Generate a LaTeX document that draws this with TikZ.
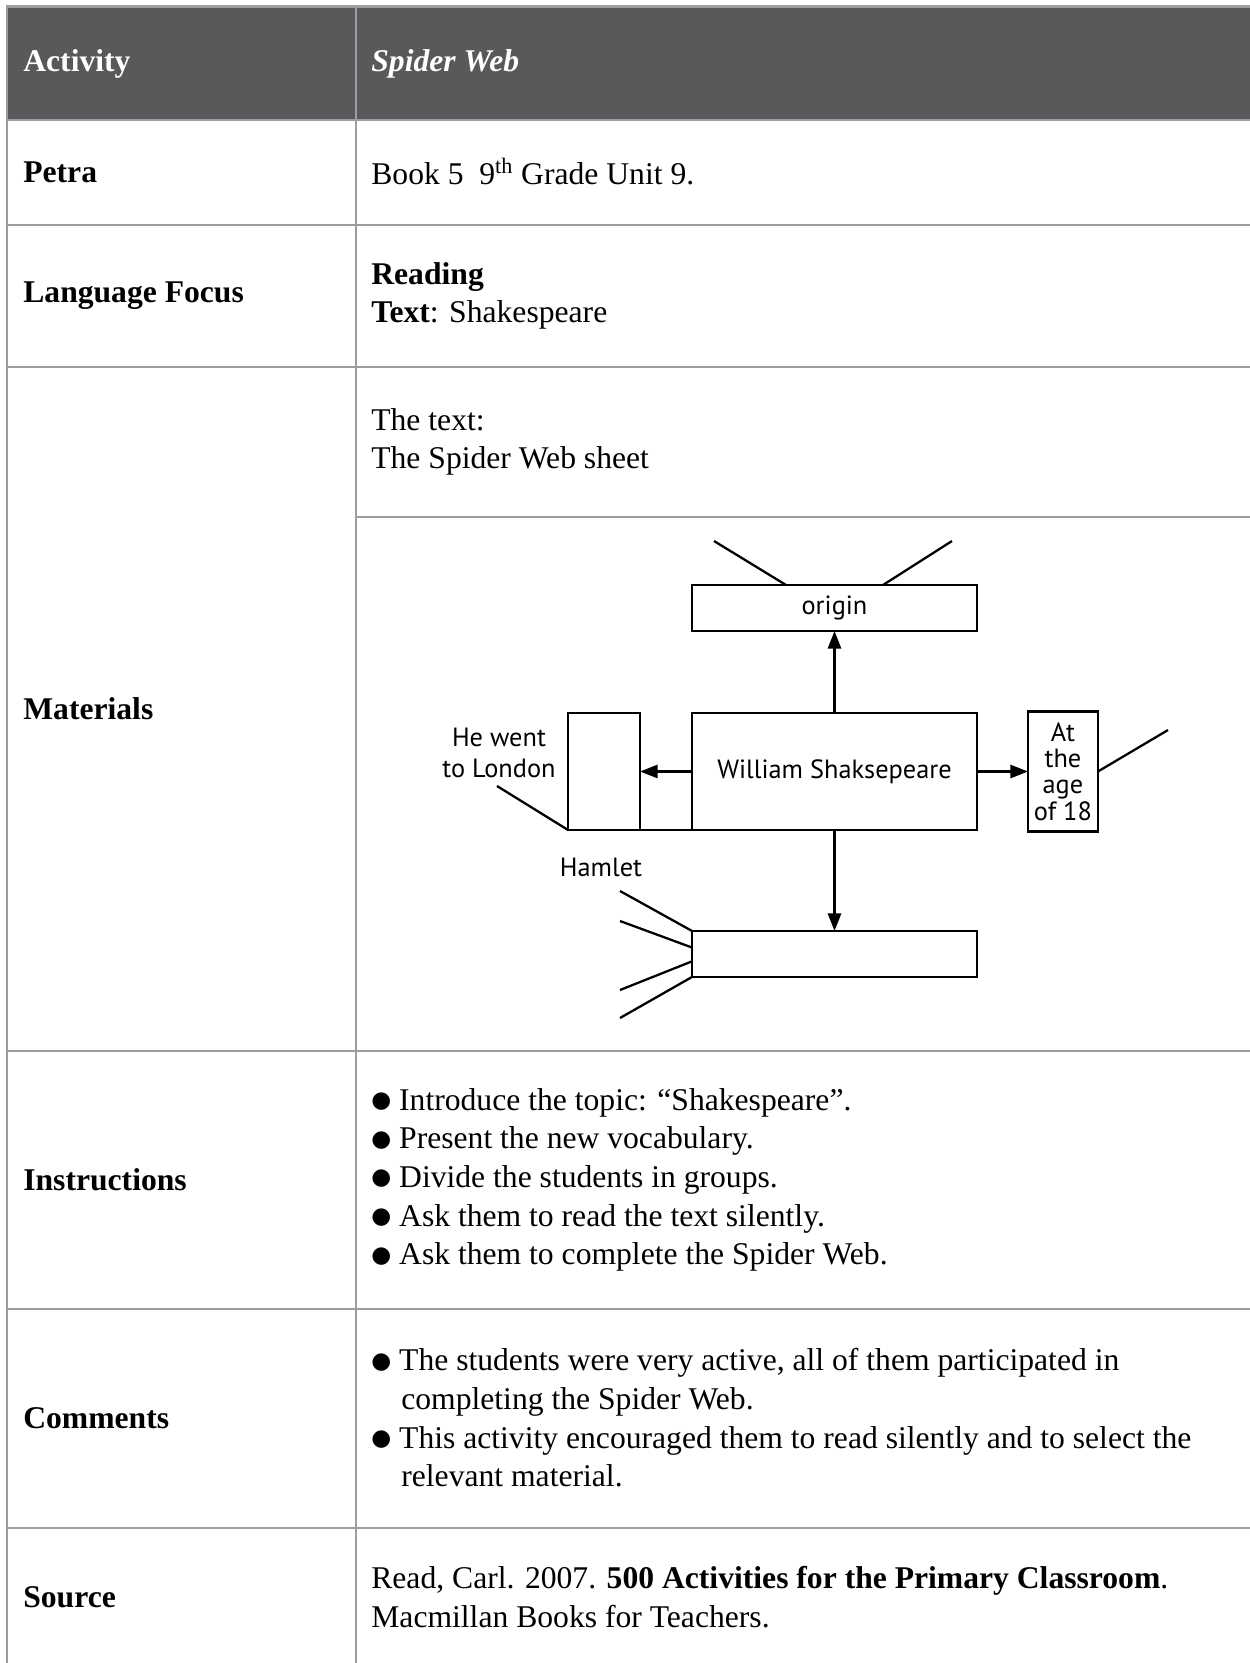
\documentclass[tikz,border=0pt]{standalone}
\usepackage{fontspec}
\setmainfont{Liberation Serif}
\newfontfamily\webfont{PT Sans}
\newfontfamily\dotfont{DejaVu Sans}
\usetikzlibrary{positioning,arrows.meta,calc}
\definecolor{headgray}{HTML}{58595B}
\definecolor{rulegray}{HTML}{9D9DA1}
\newcommand{\bul}{\raisebox{1.6pt}{\dotfont\fontsize{13}{13}\selectfont ●}}

\begin{document}
\begin{tikzpicture}[x=0.02cm, y=-0.02cm, >={Triangle[length=10pt,width=7.5pt]},
  rule/.style={rulegray, line width=1.4pt},
  label/.style={anchor=west, inner sep=0pt, font=\fontsize{18}{22}\selectfont\bfseries},
  cell/.style={anchor=west, align=left, inner sep=0pt, font=\fontsize{18}{22}\selectfont},
  box/.style={draw, line width=1.3pt, inner sep=0pt, outer sep=0pt, font=\webfont\fontsize{15}{15}\selectfont},
  word/.style={align=center, inner sep=0pt, font=\webfont\fontsize{15}{18}\selectfont},
  web/.style={line width=1.3pt}]
\useasboundingbox (0,0) rectangle (1250,1663);
\fill[headgray] (7,7) rectangle (1250,120);
\draw[rule] (6,6.5) -- (1250,6.5);
\draw[rule] (7,5) -- (7,1663);
\draw[rule] (356,5) -- (356,1663);
\draw[rule] (7,120) -- (1250,120);
\draw[rule] (7,225) -- (1250,225);
\draw[rule] (7,367) -- (1250,367);
\draw[rule] (356,517) -- (1250,517);
\draw[rule] (7,1051) -- (1250,1051);
\draw[rule] (7,1309) -- (1250,1309);
\draw[rule] (7,1528) -- (1250,1528);

\node[label, text=white] (activity) at (23,64) {Activity};
\node[cell, text=white, font=\fontsize{18}{22}\selectfont\bfseries\itshape] (title) at (371,64) {Spider Web};
\node[label] (petra) at (23,172) {Petra};
\node[cell] (book) at (371,172) {Book 5\ \ 9\textsuperscript{th} Grade Unit 9.};
\node[label] (focus) at (23,296) {Language Focus};
\node[cell] (reading) at (371,296) {\textbf{Reading}\\\textbf{Text}: Shakespeare};
\node[label] (materials) at (23,709) {Materials};
\node[cell] (sheet) at (371,442) {The text:\\The Spider Web sheet};
\node[label] (instructions) at (23,1180) {Instructions};
\node[cell] (steps) at (371,1180) {\bul{} Introduce the topic: “Shakespeare”.\\
  \bul{} Present the new vocabulary.\\
  \bul{} Divide the students in groups.\\
  \bul{} Ask them to read the text silently.\\
  \bul{} Ask them to complete the Spider Web.};
\node[label] (comments) at (23,1418) {Comments};
\node[cell] (notes) at (371,1418) {\bul{} The students were very active, all of them participated in\\
  \hspace*{0.6cm}completing the Spider Web.\\
  \bul{} This activity encouraged them to read silently and to select the\\
  \hspace*{0.6cm}relevant material.};
\node[label] (source) at (23,1597) {Source};
\node[cell] (read) at (371,1597) {Read, Carl. 2007. \textbf{500 Activities for the Primary Classroom}.\\
  Macmillan Books for Teachers.};

\node[box, minimum width=5.7cm, minimum height=2.34cm] (will) at (834.5,771.5) {William Shaksepeare};
\node[box, minimum width=5.7cm, minimum height=0.92cm, above=1.64cm of will] (birth) {origin};
\node[box, minimum width=5.7cm, minimum height=0.92cm, below=2.02cm of will] (works) {};
\node[box, minimum width=1.44cm, minimum height=2.34cm, left=1.04cm of will] (london) {};
\node[box, minimum width=1.4cm, minimum height=2.4cm, right=1.02cm of will, align=center] (age) {At\\the\\age\\of 18};
\node[word] (went) at (499,753) {He went\\to London};
\node[word] (hamlet) at (601,867) {Hamlet};

\path[web, ->]
  (will) edge (birth)
  (will) edge (london)
  (will) edge (age)
  (will) edge (works);
\draw[web] (london.south west) -- (will.south west);

\coordinate (topleft) at (714,541);
\coordinate (topright) at (952,541);
\coordinate (londonend) at (497,786);
\coordinate (ageend) at (1168,730);
\coordinate (fan1) at (620,891);
\coordinate (fan2) at (620,921);
\coordinate (fan3) at (620,990);
\coordinate (fan4) at (620,1018);
\draw[web] (topleft) -- ($(birth.north west)!0.33!(birth.north east)$);
\draw[web] (topright) -- ($(birth.north west)!0.67!(birth.north east)$);
\draw[web] (londonend) -- (london.south west);
\draw[web] (age.east) -- (ageend);
\draw[web] (fan1) -- (works.north west);
\draw[web] (fan2) -- ($(works.north west)!0.36!(works.south west)$);
\draw[web] (fan3) -- ($(works.north west)!0.66!(works.south west)$);
\draw[web] (fan4) -- (works.south west);
\end{tikzpicture}
\end{document}
